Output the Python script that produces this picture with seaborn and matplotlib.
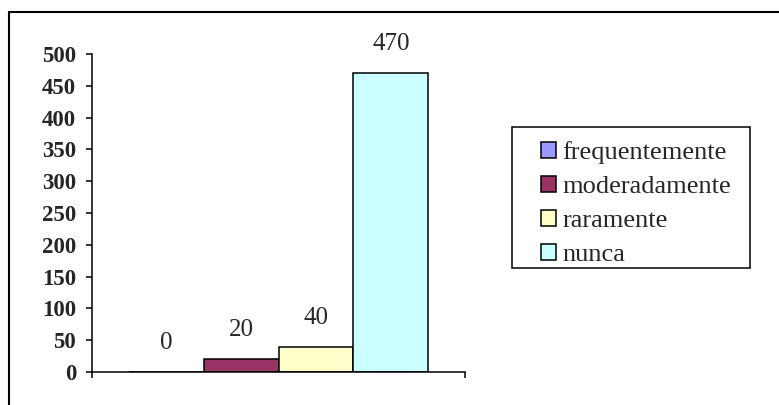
import matplotlib
matplotlib.use('Agg')
import matplotlib.pyplot as plt
import seaborn as sns
import pandas as pd
from matplotlib.patches import Rectangle

categorias = ["frequentemente", "moderadamente", "raramente", "nunca"]
valores = [0, 20, 40, 470]
cores = ["#9999FF", "#993366", "#FFFFCC", "#CCFFFF"]
yticks = list(range(0, 501, 50))

sns.set_style('ticks')
plt.rcParams['font.family'] = ['Liberation Serif', 'DejaVu Serif']

df = pd.DataFrame({'grupo': [''] * len(categorias), 'categoria': categorias, 'valor': valores})

fig = plt.figure(figsize=(7.79, 4.05), dpi=100)
ax = fig.add_axes([92 / 779, 1 - 372 / 405, (465 - 92) / 779, (372 - 54) / 405])
sns.barplot(data=df, x='grupo', y='valor', hue='categoria', hue_order=categorias,
            palette=cores, saturation=1, width=0.804, edgecolor='black',
            linewidth=1.1, ax=ax, legend=True)
ax.set_xlim(-0.5, 0.5)
ax.set_ylim(0, 500)
ax.set_yticks(yticks)
ax.set_yticklabels([str(t) for t in yticks], fontweight='bold', fontsize=16.5)
ax.set_xticks([-0.5, 0.5])
ax.set_xticklabels(['', ''])
ax.tick_params(axis='both', direction='out', length=4.5, width=1.1, color='black')
ax.tick_params(axis='y', pad=7)
ax.set_xlabel('')
ax.set_ylabel('')
for s in ['top', 'right']:
    ax.spines[s].set_visible(False)
for s in ['left', 'bottom']:
    ax.spines[s].set_linewidth(1.1)
    ax.spines[s].set_color('black')

for c in ax.containers:
    ax.bar_label(c, padding=13, fontsize=18, fmt='%g')

handles, labels = ax.get_legend_handles_labels()
ax.get_legend().remove()
leg = fig.legend(handles, labels, loc='upper left', bbox_to_anchor=(541 / 779, 1 - 141 / 405),
                 frameon=False, borderaxespad=0, borderpad=0, fontsize=19,
                 handlelength=0.55, handleheight=0.55,
                 handletextpad=0.25, labelspacing=0.45)

# legend box
fig.add_artist(Rectangle((512 / 779, 1 - 268 / 405), (750 - 512) / 779, (268 - 127) / 405,
                         transform=fig.transFigure, fill=False, edgecolor='black', linewidth=1.1))

# outer chart border
fig.add_artist(Rectangle((8.5 / 779, -0.5), 2, 1 - 11.5 / 405 + 0.5, transform=fig.transFigure,
                         fill=False, edgecolor='black', linewidth=1.5))

fig.savefig('out.png', dpi=100)
